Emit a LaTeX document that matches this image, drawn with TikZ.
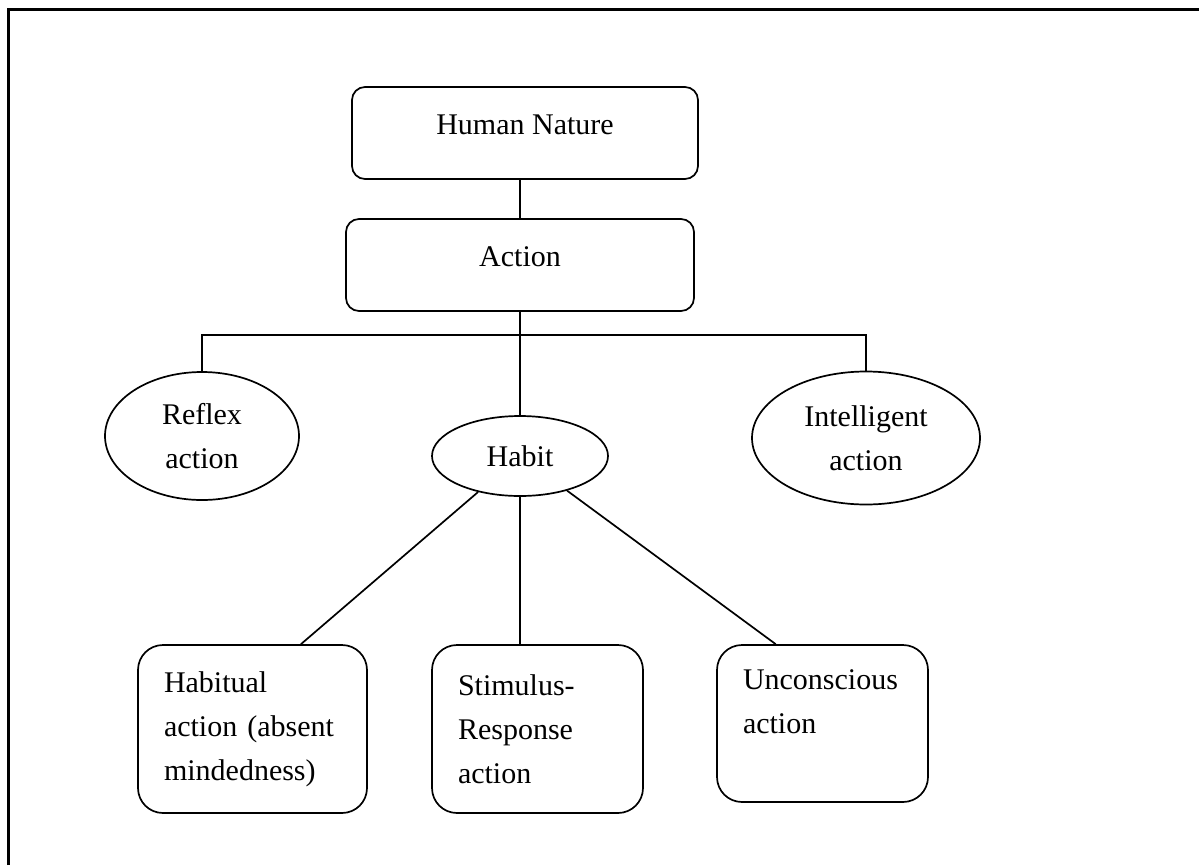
\documentclass[tikz,border=0pt]{standalone}
\usepackage{fontspec}
\setmainfont{Liberation Serif}
\usepackage{tikz}
\usetikzlibrary{calc,positioning,shapes.geometric}

\tikzset{
  topbox/.style={draw,line width=1.7pt,rounded corners=13pt,inner sep=0pt,text depth=16pt},
  oval/.style={draw,ellipse,line width=1.7pt,inner sep=0pt,align=center},
  leafbox/.style={draw,line width=1.7pt,rounded corners=25pt,inner ysep=0pt,inner xsep=26pt,align=left},
  link/.style={line width=1.7pt}
}

\begin{document}
\begin{tikzpicture}[x=1pt,y=-1pt,font=\fontsize{30}{44}\selectfont]
\useasboundingbox (0,0) rectangle (1199,865);
% open frame
\draw[line width=3pt] (8,865) -- (8,9) -- (1199,9);

\node[topbox,minimum width=346pt,minimum height=92pt] (nature) at (525,133) {Human Nature};
\node[topbox,minimum width=348pt,minimum height=92pt] (action) at (520,265) {Action};

\node[oval,minimum width=194pt,minimum height=128pt] (reflex) at (202,436) {Reflex\\action};
\node[oval,minimum width=176pt,minimum height=80pt] (habit) at (520,456) {Habit};
\node[oval,minimum width=228pt,minimum height=133pt] (intel) at (866,438) {Intelligent\\action};

\node[leafbox,text width=177pt,minimum height=168pt] (habitual) at (252.5,729) {Habitual\\action (absent\\mindedness)};
\node[leafbox,text width=159pt,minimum height=168pt] (stimulus) at (537.5,729) {Stimulus-\\Response\\action};
\node[leafbox,text width=159pt,minimum height=157pt] (uncon) at (822.5,723.5) {Unconscious\\action\\\mbox{}};

% tree links
\draw[link] (action.north) -- (action.north |- nature.south);
\draw[link] (action.south) -- (habit.north);
\draw[link] (reflex.north) -- ++(0,-36) -| (intel.north);
\draw[link] (habit) -- ($(habitual.north west)!0.71!(habitual.north east)$);
\draw[link] (habit.south) -- (habit.south |- stimulus.north);
\draw[link] (habit) -- ($(uncon.north west)!0.28!(uncon.north east)$);
\end{tikzpicture}
\end{document}
